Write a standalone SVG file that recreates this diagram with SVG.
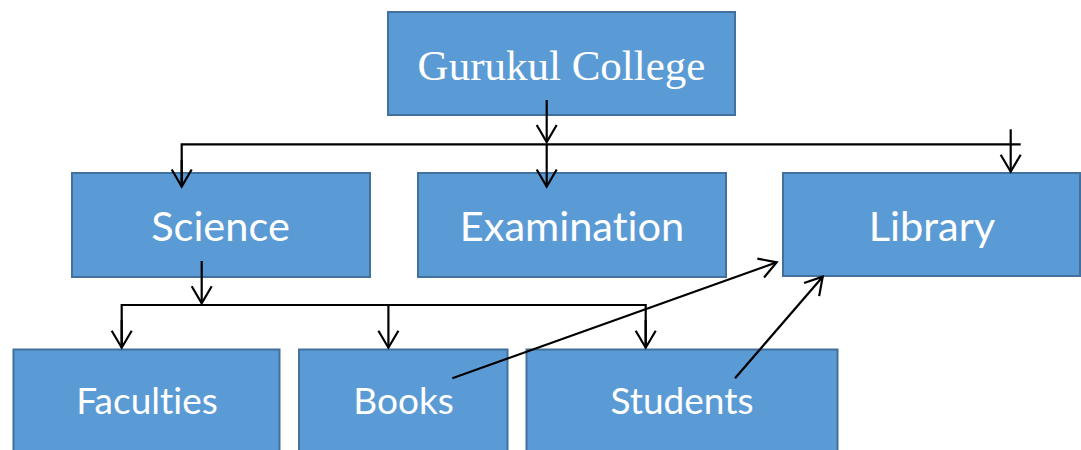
<svg xmlns="http://www.w3.org/2000/svg" width="1081" height="450" viewBox="0 0 1081 450">
  <style>
    .box { fill: #5B9BD5; stroke: #41719C; stroke-width: 2; }
    .t { fill: #FFFFFF; font-family: "Lato", "Liberation Sans", sans-serif; text-anchor: middle; font-variant-ligatures: none; }
    .t1 { font-size: 41.5px; }
    .t2 { font-size: 37px; }
    .serif { fill: #FFFFFF; font-family: "Liberation Serif", "Times New Roman", serif; font-size: 43px; text-anchor: middle; }
    .c { fill: none; stroke: #000000; stroke-width: 2.2; }
  </style>
  <defs>
    <marker id="arr" markerUnits="userSpaceOnUse" markerWidth="24" markerHeight="24" viewBox="0 0 24 24" refX="20" refY="12" orient="auto">
      <path d="M3,2 L20,12 L3,22" fill="none" stroke="#000000" stroke-width="2.2"/>
    </marker>
  </defs>
  <rect width="1081" height="450" fill="#FFFFFF"/>

  <g id="gurukul">
    <rect class="box" x="388" y="12" width="347" height="103"/>
    <text class="serif" x="561.5" y="80">Gurukul College</text>
  </g>
  <g id="science">
    <rect class="box" x="72" y="173" width="298" height="104"/>
    <text class="t t1" x="220.5" y="241">Science</text>
  </g>
  <g id="examination">
    <rect class="box" x="418" y="173" width="308" height="104"/>
    <text class="t t1" x="572" y="241">Examination</text>
  </g>
  <g id="library">
    <rect class="box" x="783" y="173" width="297" height="103"/>
    <text class="t t1" x="932" y="241">Library</text>
  </g>
  <g id="faculties">
    <rect class="box" x="13.5" y="349.5" width="266" height="110"/>
    <text class="t t2" x="147" y="414">Faculties</text>
  </g>
  <g id="books">
    <rect class="box" x="299" y="349.5" width="208.5" height="110"/>
    <text class="t t2" x="403.5" y="414">Books</text>
  </g>
  <g id="students">
    <rect class="box" x="526.5" y="349.5" width="311" height="110"/>
    <text class="t t2" x="682" y="414">Students</text>
  </g>

  <g id="connectors">
    <line class="c" x1="546.7" y1="100" x2="546.7" y2="142" marker-end="url(#arr)"/>
    <line class="c" x1="546.7" y1="144" x2="546.7" y2="186.5" marker-end="url(#arr)"/>
    <polyline class="c" points="181.7,186.5 181.7,144.3 1020.7,144.3"/>
    <line class="c" x1="181.7" y1="160" x2="181.7" y2="186.5" marker-end="url(#arr)"/>
    <line class="c" x1="1010.7" y1="129.3" x2="1010.7" y2="171.7" marker-end="url(#arr)"/>
    <line class="c" x1="201.7" y1="261" x2="201.7" y2="303.3" marker-end="url(#arr)"/>
    <polyline class="c" points="121.7,347.7 121.7,305 645.7,305 645.7,347.7"/>
    <line class="c" x1="121.7" y1="320" x2="121.7" y2="347.7" marker-end="url(#arr)"/>
    <line class="c" x1="388.4" y1="305" x2="388.4" y2="347.7" marker-end="url(#arr)"/>
    <line class="c" x1="645.7" y1="320" x2="645.7" y2="347.7" marker-end="url(#arr)"/>
    <line class="c" x1="452.3" y1="378.3" x2="776.7" y2="262.3" marker-end="url(#arr)"/>
    <line class="c" x1="735" y1="378.3" x2="822.7" y2="276.7" marker-end="url(#arr)"/>
  </g>
</svg>
